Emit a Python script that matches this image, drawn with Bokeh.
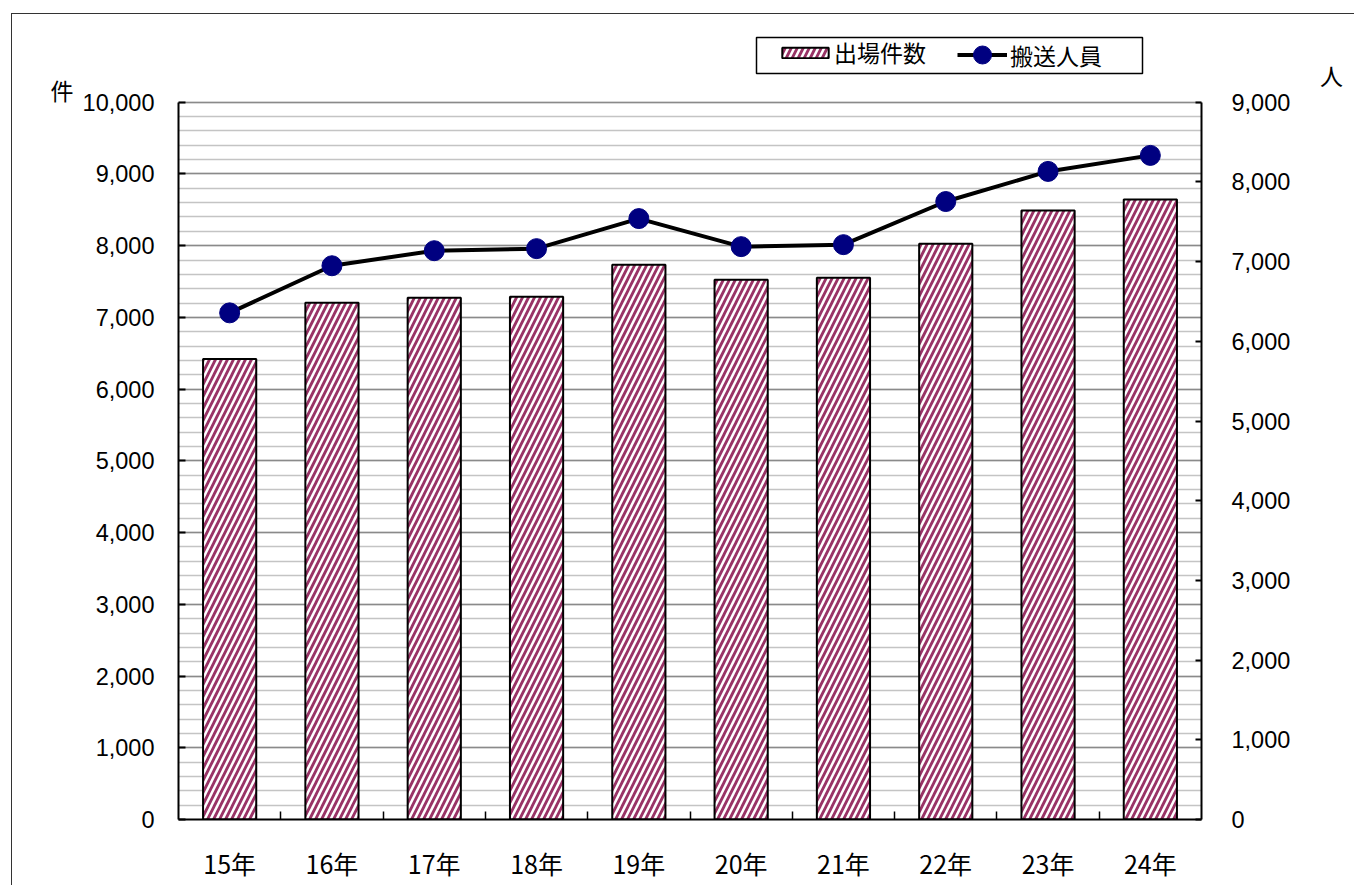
from bokeh.plotting import figure
from bokeh.models import (Range1d, LinearAxis, SingleIntervalTicker, FixedTicker, BoxAnnotation,
                          NumeralTickFormatter, Legend, LegendItem, Label, ColumnDataSource)
from bokeh.embed import file_html
from bokeh.resources import INLINE

# ---- data ----
years = ["15年", "16年", "17年", "18年", "19年", "20年", "21年", "22年", "23年", "24年"]
calls = [6420, 7203, 7273, 7287, 7734, 7524, 7552, 8028, 8490, 8643]          # 出場件数 (left axis)
transported = [6357, 6948, 7137, 7163, 7540, 7188, 7213, 7754, 8132, 8333]    # 搬送人員 (right axis)
left_max = 10000
right_max = 9000
step = 1000

xpos = [i + 0.5 for i in range(len(years))]
src = ColumnDataSource(dict(x=xpos, calls=calls, people=transported, year=years))

JP = "Noto Sans CJK JP"
NUM = "Liberation Sans"

# the frame reaches one extra step above the plot area so that the legend can sit in it
p = figure(width=1343, height=872, output_backend="svg", toolbar_location=None,
           x_range=Range1d(0, len(years)), y_range=Range1d(0, left_max + step),
           min_border_left=166, min_border_right=154, min_border_top=16, min_border_bottom=67)
p.extra_y_ranges = {"right": Range1d(0, (right_max) * (left_max + step) / left_max)}
p.background_fill_color = "white"
p.border_fill_color = "white"
p.outline_line_color = None

# grid
p.xgrid.visible = False
g = p.ygrid[0]
g.ticker = SingleIntervalTicker(interval=step, num_minor_ticks=5)
g.bounds = (0, left_max)
g.grid_line_color = "#8a8a8a"
g.grid_line_width = 1.6
g.minor_grid_line_color = "#c4c4c4"
g.minor_grid_line_width = 1.6

# left axis
ya = p.yaxis[0]
ya.ticker = SingleIntervalTicker(interval=step)
ya.bounds = (0, left_max)
ya.formatter = NumeralTickFormatter(format="0,0")
ya.axis_line_color = "black"
ya.axis_line_width = 2
ya.major_tick_in = 7
ya.major_tick_out = 0
ya.major_tick_line_width = 2
ya.minor_tick_line_color = None
ya.major_label_standoff = 20
ya.major_label_text_font = NUM
ya.major_label_text_font_size = "23.5px"
ya.major_label_text_color = "black"

# right axis
ra = LinearAxis(y_range_name="right", ticker=SingleIntervalTicker(interval=step),
                formatter=NumeralTickFormatter(format="0,0"), bounds=(0, right_max))
ra.axis_line_color = "black"
ra.axis_line_width = 2
ra.major_tick_in = 6
ra.major_tick_out = 0
ra.major_tick_line_width = 2
ra.minor_tick_line_color = None
ra.major_label_standoff = 26
ra.major_label_text_font = NUM
ra.major_label_text_font_size = "23.5px"
ra.major_label_text_color = "black"
p.add_layout(ra, "right")

# x axis: labels at centres, tick marks between categories
xa = p.xaxis[0]
xa.ticker = FixedTicker(ticks=xpos, minor_ticks=list(range(1, len(years))))
xa.major_label_overrides = {x: y for x, y in zip(xpos, years)}
xa.axis_line_color = "black"
xa.axis_line_width = 2
xa.major_tick_line_color = None
xa.minor_tick_in = 8
xa.minor_tick_out = 0
xa.minor_tick_line_color = "black"
xa.minor_tick_line_width = 1.5
xa.major_label_standoff = 19
xa.major_label_text_font = JP
xa.major_label_text_font_size = "25px"
xa.major_label_text_color = "black"

# bars
bars = p.vbar(x="x", top="calls", width=0.52, source=src,
              fill_color="white", line_color="black", line_width=2,
              hatch_pattern="/", hatch_color="#993366", hatch_scale=12, hatch_weight=2.8)

# line + markers
ln = p.line(x="x", y="people", source=src, y_range_name="right", line_color="black", line_width=4)
mk = p.scatter(x="x", y="people", source=src, y_range_name="right", size=20,
               fill_color="#000080", line_color="#000080")

# legend box + two legends (different glyph sizes)
p.add_layout(BoxAnnotation(left=578, right=964, bottom=746, top=782,
                           left_units="screen", right_units="screen",
                           bottom_units="screen", top_units="screen",
                           fill_color="white", fill_alpha=1,
                           line_color="black", line_alpha=1, line_width=1.5))

def make_legend(item, loc, gw, gh, standoff):
    lg = Legend(items=[item], orientation="horizontal", location=loc)
    lg.label_text_font = JP
    lg.label_text_font_size = "23px"
    lg.label_text_color = "black"
    lg.glyph_width = gw
    lg.glyph_height = gh
    lg.padding = 0
    lg.margin = 0
    lg.spacing = 0
    lg.label_standoff = standoff
    lg.border_line_color = None
    lg.background_fill_alpha = 0
    return lg

p.add_layout(make_legend(LegendItem(label="出場件数", renderers=[bars]), (598, 750), 58, 13, 0), "center")
p.add_layout(make_legend(LegendItem(label="搬送人員", renderers=[ln, mk]), (779, 742), 50, 45, 3), "center")

# unit labels
p.add_layout(Label(x=-6, y=left_max + 175, x_units="screen", text="件",
                   text_font=JP, text_font_size="23px", text_color="black",
                   text_baseline="middle", text_align="left"), "left")
p.add_layout(Label(x=38, y=right_max + 345, x_units="screen", y_range_name="right", text="人",
                   text_font=JP, text_font_size="23px", text_color="black",
                   text_baseline="middle", text_align="center"), "right")

p.styles = {"margin-left": "11px", "margin-top": "13px",
            "border-left": "1.5px solid #333", "border-top": "1.5px solid #333"}

open("out.html", "w").write(file_html(p, INLINE))
